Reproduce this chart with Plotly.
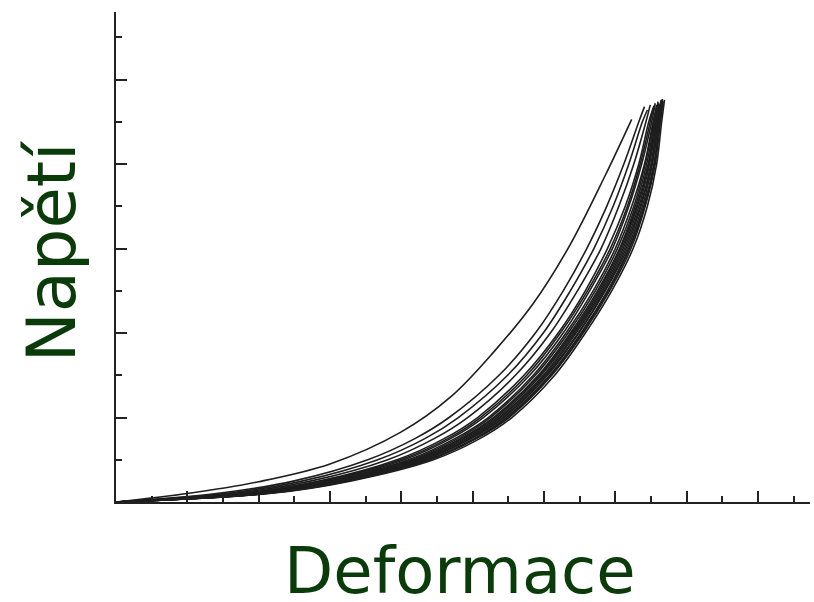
import plotly.graph_objects as go

# Stress levels (shared) at which each specimen's strain is recorded
stress_levels = [0, 0.1, 0.25, 0.5, 0.75, 1.0, 1.5, 2.0, 2.5, 3.0, 3.5, 4.0, 4.5]

# Strain of each specimen at the stress levels above
strain_s01 = [0, 1.41, 2.50, 3.53, 4.19, 4.67, 5.37, 5.88, 6.27, 6.60, 6.88, 7.12, 7.33]
strain_s02 = [0, 1.52, 2.62, 3.67, 4.33, 4.80, 5.49, 5.99, 6.37, 6.70, 6.97, 7.19, 7.38]
strain_s03 = [0, 1.63, 2.74, 3.81, 4.46, 4.93, 5.60, 6.09, 6.47, 6.80, 7.05, 7.26, 7.43]
strain_s04 = [0, 1.74, 2.86, 3.94, 4.60, 5.07, 5.72, 6.20, 6.58, 6.89, 7.14, 7.33, 7.47]
strain_s05 = [0, 1.78, 2.90, 3.99, 4.65, 5.11, 5.76, 6.23, 6.61, 6.93, 7.17, 7.35, 7.49]
strain_s06 = [0, 1.82, 2.94, 4.04, 4.69, 5.15, 5.80, 6.27, 6.64, 6.96, 7.19, 7.37, 7.51]
strain_s07 = [0, 1.87, 3.00, 4.10, 4.75, 5.22, 5.85, 6.31, 6.69, 7.00, 7.23, 7.41, 7.53]
strain_s08 = [0, 1.90, 3.03, 4.14, 4.79, 5.25, 5.88, 6.34, 6.72, 7.03, 7.26, 7.42, 7.54]
strain_s09 = [0, 1.93, 3.06, 4.17, 4.83, 5.29, 5.92, 6.37, 6.75, 7.06, 7.28, 7.44, 7.55]
strain_s10 = [0, 1.95, 3.08, 4.20, 4.85, 5.31, 5.94, 6.39, 6.77, 7.07, 7.30, 7.46, 7.56]
strain_s11 = [0, 1.97, 3.11, 4.23, 4.88, 5.34, 5.96, 6.41, 6.79, 7.09, 7.31, 7.47, 7.57]
strain_s12 = [0, 1.99, 3.13, 4.26, 4.91, 5.37, 5.99, 6.43, 6.81, 7.11, 7.33, 7.48, 7.58]
strain_s13 = [0, 2.02, 3.16, 4.28, 4.94, 5.39, 6.01, 6.45, 6.83, 7.13, 7.35, 7.50, 7.59]
strain_s14 = [0, 2.04, 3.18, 4.31, 4.96, 5.42, 6.03, 6.48, 6.85, 7.15, 7.36, 7.51, 7.60]
strain_s15 = [0, 2.05, 3.20, 4.33, 4.98, 5.44, 6.05, 6.49, 6.86, 7.17, 7.38, 7.52, 7.61]
strain_s16 = [0, 2.08, 3.23, 4.37, 5.02, 5.47, 6.08, 6.52, 6.89, 7.19, 7.40, 7.54, 7.62]
strain_s17 = [0, 2.10, 3.24, 4.39, 5.04, 5.49, 6.10, 6.53, 6.90, 7.20, 7.41, 7.55, 7.63]
strain_s18 = [0, 2.11, 3.26, 4.40, 5.05, 5.51, 6.11, 6.55, 6.92, 7.22, 7.42, 7.56, 7.63]
strain_s19 = [0, 2.15, 3.30, 4.45, 5.10, 5.55, 6.15, 6.58, 6.95, 7.25, 7.45, 7.58, 7.65]

# Failure point (strain, stress) of each specimen, in the same order
failure_strain = [7.41, 7.45, 7.49, 7.53, 7.54, 7.56, 7.58, 7.59, 7.60, 7.61,
                  7.62, 7.63, 7.64, 7.645, 7.65, 7.66, 7.665, 7.67, 7.69]
failure_stress = [4.68, 4.64, 4.70, 4.66, 4.69, 4.72, 4.70, 4.67, 4.74, 4.72,
                  4.69, 4.71, 4.75, 4.76, 4.73, 4.77, 4.75, 4.74, 4.76]

# Stiffest specimen, recorded separately
stiff_strain = [0, 1.0, 2.0, 3.0, 4.0, 4.7, 5.3, 5.85, 6.35, 6.85, 7.23]
stiff_stress = [0, 0.10, 0.24, 0.45, 0.83, 1.25, 1.78, 2.35, 3.02, 3.85, 4.53]

specimens = [strain_s01, strain_s02, strain_s03, strain_s04, strain_s05, strain_s06,
             strain_s07, strain_s08, strain_s09, strain_s10, strain_s11, strain_s12,
             strain_s13, strain_s14, strain_s15, strain_s16, strain_s17, strain_s18,
             strain_s19]

line_color = "#1e1e1e"
title_color = "#0b3b0b"
title_font = "DejaVu Sans"
curve_line = dict(color=line_color, width=1.6, shape="spline", smoothing=1.0)

fig = go.Figure()

for strains, fx, fy in zip(specimens, failure_strain, failure_stress):
    fig.add_trace(go.Scatter(
        x=strains + [fx], y=stress_levels + [fy],
        mode="lines", line=curve_line,
        hoverinfo="skip", showlegend=False,
    ))

fig.add_trace(go.Scatter(
    x=stiff_strain, y=stiff_stress,
    mode="lines", line=curve_line,
    hoverinfo="skip", showlegend=False,
))

axis_common = dict(
    showline=True, linecolor="#222222", linewidth=2,
    showgrid=False, zeroline=False, showticklabels=False,
    ticks="inside", ticklen=11, tickwidth=2, tickcolor="#222222",
    dtick=1, tick0=0,
    minor=dict(ticks="inside", ticklen=6, tickwidth=2, tickcolor="#222222", dtick=0.5),
)

fig.update_xaxes(range=[0, 9.73], **axis_common)
fig.update_yaxes(range=[0, 5.80], **axis_common)

fig.add_annotation(
    text="Deformace", xref="paper", yref="paper", x=0.496, y=-0.141,
    xanchor="center", yanchor="middle", showarrow=False,
    font=dict(family=title_font, size=64, color=title_color),
)
fig.add_annotation(
    text="Napětí", xref="paper", yref="paper", x=-0.092, y=0.512,
    xanchor="center", yanchor="middle", textangle=-90, showarrow=False,
    font=dict(family=title_font, size=67, color=title_color),
)

fig.update_layout(
    width=814, height=602,
    margin=dict(l=116, r=4, t=12, b=100),
    plot_bgcolor="white", paper_bgcolor="white",
)

fig.write_html("out.html")
